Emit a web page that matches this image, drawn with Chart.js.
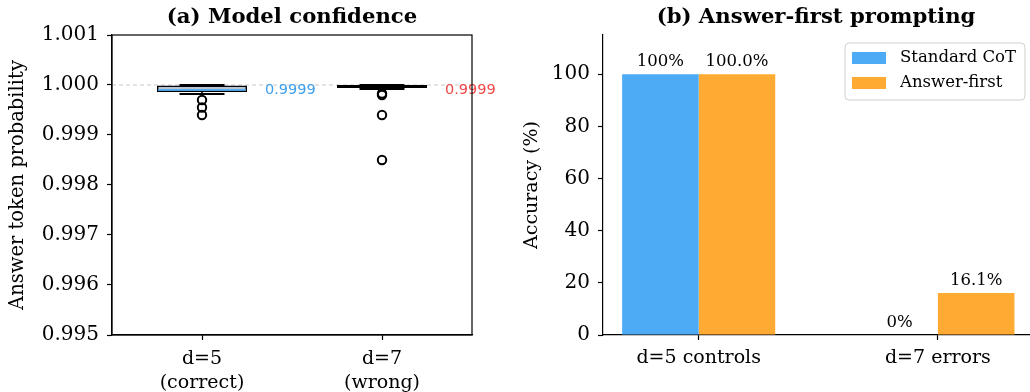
<!DOCTYPE html>
<html><head><meta charset="utf-8">
<script src="https://cdn.jsdelivr.net/npm/chart.js@4/dist/chart.umd.min.js"></script>
<style>
html,body{margin:0;padding:0;background:#fff;overflow:hidden;width:1030px;height:392px}
#cA{position:absolute;left:0;top:0}
#cB{position:absolute;left:515px;top:0}
</style></head><body>
<canvas id="cA" width="515" height="392"></canvas>
<canvas id="cB" width="515" height="392"></canvas>
<script>
// ---- Panel (a) data ----
const boxCategories = [["d=5","(correct)"],["d=7","(wrong)"]];
const boxQ1 = [0.99986, 0.99994];
const boxQ3 = [0.99999, 1.0];
const boxMedian = [0.9999, 0.99998];
const whiskerLow = [0.99982, 0.99992];
const whiskerHigh = [1.0, 1.0];
const outliersD5 = [0.9997, 0.99955, 0.9994];
const outliersD7 = [0.99983, 0.9998, 0.9994, 0.9985];
const medianLabels = ["0.9999","0.9999"];
const probTicks = [0.995,0.996,0.997,0.998,0.999,1.000,1.001];

// ---- Panel (b) data ----
const barCategories = ["d=5 controls","d=7 errors"];
const standardCoT = [100, 0];
const answerFirst = [100, 16.1];
const standardLabels = ["100%","0%"];
const answerLabels = ["100.0%","16.1%"];
const accTicks = [0,20,40,60,80,100];

const SERIF = "'DejaVu Serif', serif";
const SANS = "'DejaVu Sans', sans-serif";
const BLUE = '#4DABF5', ORANGE = '#FFAA33';
const medianColors = ['#42A5F5', '#EF5350'];
const medianTextColors = ['#3D9FEE', '#F04848'];

Chart.defaults.font.family = SERIF;
Chart.defaults.color = '#000';

const boxPlugin = {
  id: 'boxExtras',
  beforeDatasetsDraw(chart) {
    const ctx = chart.ctx, x = chart.scales.x, y = chart.scales.y, a = chart.chartArea;
    ctx.save();
    ctx.strokeStyle = '#c8c8c8'; ctx.lineWidth = 1; ctx.setLineDash([4,3]);
    const y1 = y.getPixelForValue(1.0);
    ctx.beginPath(); ctx.moveTo(a.left, y1); ctx.lineTo(a.right, y1); ctx.stroke();
    ctx.setLineDash([]);
    ctx.strokeStyle = '#000';
    const meta = chart.getDatasetMeta(0);
    boxQ1.forEach((q1, i) => {
      const cx = x.getPixelForValue(i);
      const half = meta.data[i].width / 4;
      ctx.lineWidth = 1.6;
      ctx.beginPath();
      ctx.moveTo(cx, y.getPixelForValue(q1)); ctx.lineTo(cx, y.getPixelForValue(whiskerLow[i]));
      ctx.moveTo(cx, y.getPixelForValue(boxQ3[i])); ctx.lineTo(cx, y.getPixelForValue(whiskerHigh[i]));
      ctx.stroke();
      ctx.lineWidth = 2.2;
      ctx.beginPath();
      ctx.moveTo(cx - half, y.getPixelForValue(whiskerLow[i])); ctx.lineTo(cx + half, y.getPixelForValue(whiskerLow[i]));
      ctx.moveTo(cx - half, y.getPixelForValue(whiskerHigh[i])); ctx.lineTo(cx + half, y.getPixelForValue(whiskerHigh[i]));
      ctx.stroke();
    });
    ctx.restore();
  },
  afterDatasetsDraw(chart) {
    const ctx = chart.ctx, x = chart.scales.x, y = chart.scales.y, a = chart.chartArea;
    const meta = chart.getDatasetMeta(0);
    ctx.save();
    boxMedian.forEach((m, i) => {
      const cx = x.getPixelForValue(i), bw = meta.data[i].width;
      const py = y.getPixelForValue(m);
      ctx.strokeStyle = medianColors[i]; ctx.lineWidth = 1.6;
      if (i === 0) { ctx.beginPath(); ctx.moveTo(cx - bw/2 + 1, py); ctx.lineTo(cx + bw/2 - 1, py); ctx.stroke(); }
      ctx.fillStyle = medianTextColors[i];
      ctx.font = '14.5px ' + SANS; ctx.textAlign = 'left'; ctx.textBaseline = 'middle';
      ctx.fillText(medianLabels[i], x.getPixelForValue(i + 0.35), y.getPixelForValue(0.9999));
    });
    ctx.strokeStyle = '#000'; ctx.lineWidth = 1.2;
    ctx.strokeRect(a.left, a.top, a.right - a.left, a.bottom - a.top);
    ctx.fillStyle = '#000'; ctx.font = 'bold 21.2px ' + SERIF; ctx.textAlign = 'center'; ctx.textBaseline = 'middle';
    ctx.fillText('(a) Model confidence', (a.left + a.right) / 2, 17);
    ctx.restore();
  }
};

new Chart(document.getElementById('cA'), {
  type: 'bar',
  data: {
    labels: boxCategories,
    datasets: [
      {
        type: 'bar', label: 'IQR',
        data: boxCategories.map((_, i) => [boxQ1[i], boxQ3[i]]),
        backgroundColor: ['rgba(120,150,175,0.55)', 'rgba(150,120,120,0.55)'],
        borderColor: '#000', borderWidth: 1.6, borderSkipped: false,
        barPercentage: 0.5, categoryPercentage: 1, order: 2
      },
      {
        type: 'line', label: 'outliers', showLine: false, parsing: false,
        data: outliersD5.map(v => ({x: 0, y: v})).concat(outliersD7.map(v => ({x: 1, y: v}))),
        pointRadius: 4.2, pointBorderWidth: 2, pointBorderColor: '#000',
        pointBackgroundColor: 'rgba(0,0,0,0)', order: 1
      }
    ]
  },
  options: {
    responsive: false, animation: false, devicePixelRatio: 1,
    layout: { padding: { top: 35, right: 43, left: 0, bottom: 0 } },
    plugins: { legend: { display: false }, tooltip: { enabled: false } },
    scales: {
      x: {
        type: 'category', offset: true,
        grid: { offset: false, drawOnChartArea: false, tickLength: 5, tickColor: '#000', tickWidth: 1.2 },
        border: { display: true, color: '#000', width: 1.2 },
        ticks: { font: { size: 19, lineHeight: 1.28 }, padding: 7, maxRotation: 0, color: '#000' },
        afterFit: s => { s.height = 57; }
      },
      y: {
        min: 0.995, max: 1.001,
        afterBuildTicks: s => { s.ticks = probTicks.map(v => ({value: v})); },
        ticks: { callback: v => v.toFixed(3), font: { size: 20 }, padding: 8, color: '#000' },
        grid: { drawOnChartArea: false, tickLength: 5, tickColor: '#000', tickWidth: 1.2 },
        border: { display: true, color: '#000', width: 1.2 },
        title: { display: true, text: 'Answer token probability', font: { size: 19.5 }, padding: { top: 6, bottom: 0 }, color: '#000' },
        afterFit: s => { s.width = 112; }
      }
    }
  },
  plugins: [boxPlugin]
});

const barPlugin = {
  id: 'barExtras',
  afterDatasetsDraw(chart) {
    const ctx = chart.ctx, a = chart.chartArea;
    ctx.save();
    ctx.fillStyle = '#000'; ctx.font = '16.5px ' + SERIF; ctx.textAlign = 'center'; ctx.textBaseline = 'alphabetic';
    const labelSets = [standardLabels, answerLabels];
    chart.data.datasets.forEach((ds, di) => {
      chart.getDatasetMeta(di).data.forEach((bar, i) => {
        ctx.fillText(labelSets[di][i], bar.x, bar.y - 8);
      });
    });
    const bx = a.right - 185, by = a.top + 8, bw = 180, bh = 57;
    ctx.beginPath();
    ctx.roundRect(bx, by, bw, bh, 4);
    ctx.fillStyle = 'rgba(255,255,255,0.8)'; ctx.fill();
    ctx.strokeStyle = '#d0d0d0'; ctx.lineWidth = 1; ctx.stroke();
    ctx.textAlign = 'left'; ctx.textBaseline = 'middle'; ctx.font = '16.5px ' + SERIF;
    chart.data.datasets.forEach((ds, di) => {
      const ry = by + 15 + di * 25;
      ctx.fillStyle = ds.backgroundColor;
      ctx.fillRect(bx + 7, ry - 6, 34, 12);
      ctx.fillStyle = '#000';
      ctx.fillText(ds.label, bx + 55, ry);
    });
    ctx.font = 'bold 21.2px ' + SERIF; ctx.textAlign = 'center';
    ctx.fillText('(b) Answer-first prompting', 816 - 515, 17);
    ctx.restore();
  }
};

new Chart(document.getElementById('cB'), {
  type: 'bar',
  data: {
    datasets: [
      { label: 'Standard CoT', data: standardCoT.map((v, i) => ({x: i, y: v})), backgroundColor: BLUE,
        categoryPercentage: 0.64, barPercentage: 1, borderWidth: 0 },
      { label: 'Answer-first', data: answerFirst.map((v, i) => ({x: i, y: v})), backgroundColor: ORANGE,
        categoryPercentage: 0.64, barPercentage: 1, borderWidth: 0 }
    ]
  },
  options: {
    responsive: false, animation: false, devicePixelRatio: 1,
    layout: { padding: { top: 35, right: 0, left: 0, bottom: 0 } },
    plugins: { legend: { display: false }, tooltip: { enabled: false } },
    scales: {
      x: {
        type: 'linear', min: -0.40, max: 1.385, offset: false, bounds: 'data',
        afterBuildTicks: s => { s.ticks = barCategories.map((_, i) => ({value: i})); },
        ticks: { callback: (v, i) => barCategories[i], font: { size: 19 }, padding: 7, maxRotation: 0, color: '#000' },
        grid: { offset: false, drawOnChartArea: false, tickLength: 5, tickColor: '#000', tickWidth: 1.2 },
        border: { display: true, color: '#000', width: 1.2 },
        afterFit: s => { s.height = 57; }
      },
      y: {
        min: 0, max: 115,
        afterBuildTicks: s => { s.ticks = accTicks.map(v => ({value: v})); },
        ticks: { font: { size: 20 }, padding: 8, color: '#000' },
        grid: { drawOnChartArea: false, tickLength: 5, tickColor: '#000', tickWidth: 1.2 },
        border: { display: true, color: '#000', width: 1.2 },
        title: { display: true, text: 'Accuracy (%)', font: { size: 19 }, padding: { top: 6, bottom: 0 }, color: '#000' },
        afterFit: s => { s.width = 88; }
      }
    }
  },
  plugins: [barPlugin]
});
</script>
</body></html>
